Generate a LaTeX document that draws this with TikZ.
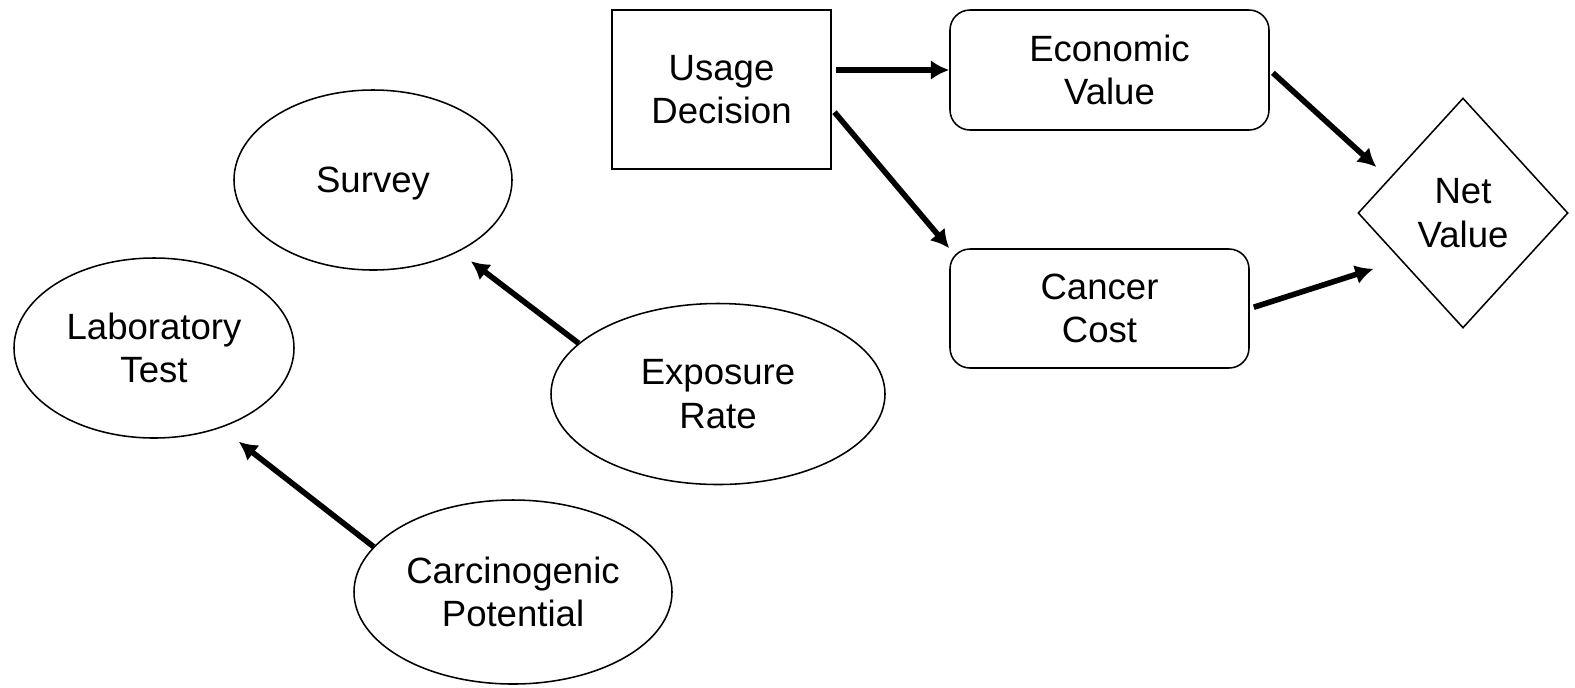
\documentclass[tikz,border=0pt]{standalone}
\usepackage{fontspec}
\setmainfont{Liberation Sans}
\usetikzlibrary{shapes.geometric,arrows.meta,calc}
\newlength\pxl
\setlength\pxl{0.025cm}
\begin{document}
\begin{tikzpicture}[x=0.025cm,y=-0.025cm,
  every node/.style={font=\fontsize{26}{31}\selectfont, align=center, line width=1.1pt, inner sep=0pt},
  oval/.style={draw, ellipse},
  box/.style={draw, rectangle},
  rbox/.style={draw, rectangle, rounded corners=0.5cm},
  dia/.style={draw, diamond},
  arr/.style={line width=4pt, -{Latex[length=13pt,width=14pt]}}]
\useasboundingbox (0,0) rectangle (1575,687);

\node[oval, minimum width=278\pxl, minimum height=180\pxl, text depth=0pt] (survey) at (373,180) {Survey};
\node[oval, minimum width=280\pxl, minimum height=180\pxl] (lab) at (154,348) {Laboratory\\Test};
\node[oval, minimum width=334\pxl, minimum height=181\pxl] (exposure) at (718,394) {Exposure\\Rate};
\node[oval, minimum width=318\pxl, minimum height=184\pxl] (carc) at (513,592) {Carcinogenic\\Potential};

\node[box, minimum width=219\pxl, minimum height=159\pxl] (usage) at (721.5,89.5) {Usage\\Decision};
\node[rbox, minimum width=319\pxl, minimum height=120\pxl] (econ) at (1109.5,70) {Economic\\Value};
\node[rbox, minimum width=299\pxl, minimum height=119\pxl] (cancer) at (1099.5,308.5) {Cancer\\Cost};
\node[dia, minimum width=210\pxl, minimum height=230\pxl] (net) at (1463,213) {Net\\Value};

\draw[arr, shorten <=3pt] (usage.east |- econ.west) -- (econ.west);
\draw[arr, shorten <=3pt] (usage.-10) -- (cancer.north west);
\draw[arr, shorten <=3pt, shorten >=12pt] (econ.east) -- (net.155);
\draw[arr, shorten <=3pt, shorten >=20pt] (cancer.east) -- (net.217);
\draw[arr, shorten >=11pt] (exposure.160) -- (survey.-40);
\draw[arr, shorten >=16pt] (carc.162) -- (lab.-50);
\end{tikzpicture}
\end{document}
